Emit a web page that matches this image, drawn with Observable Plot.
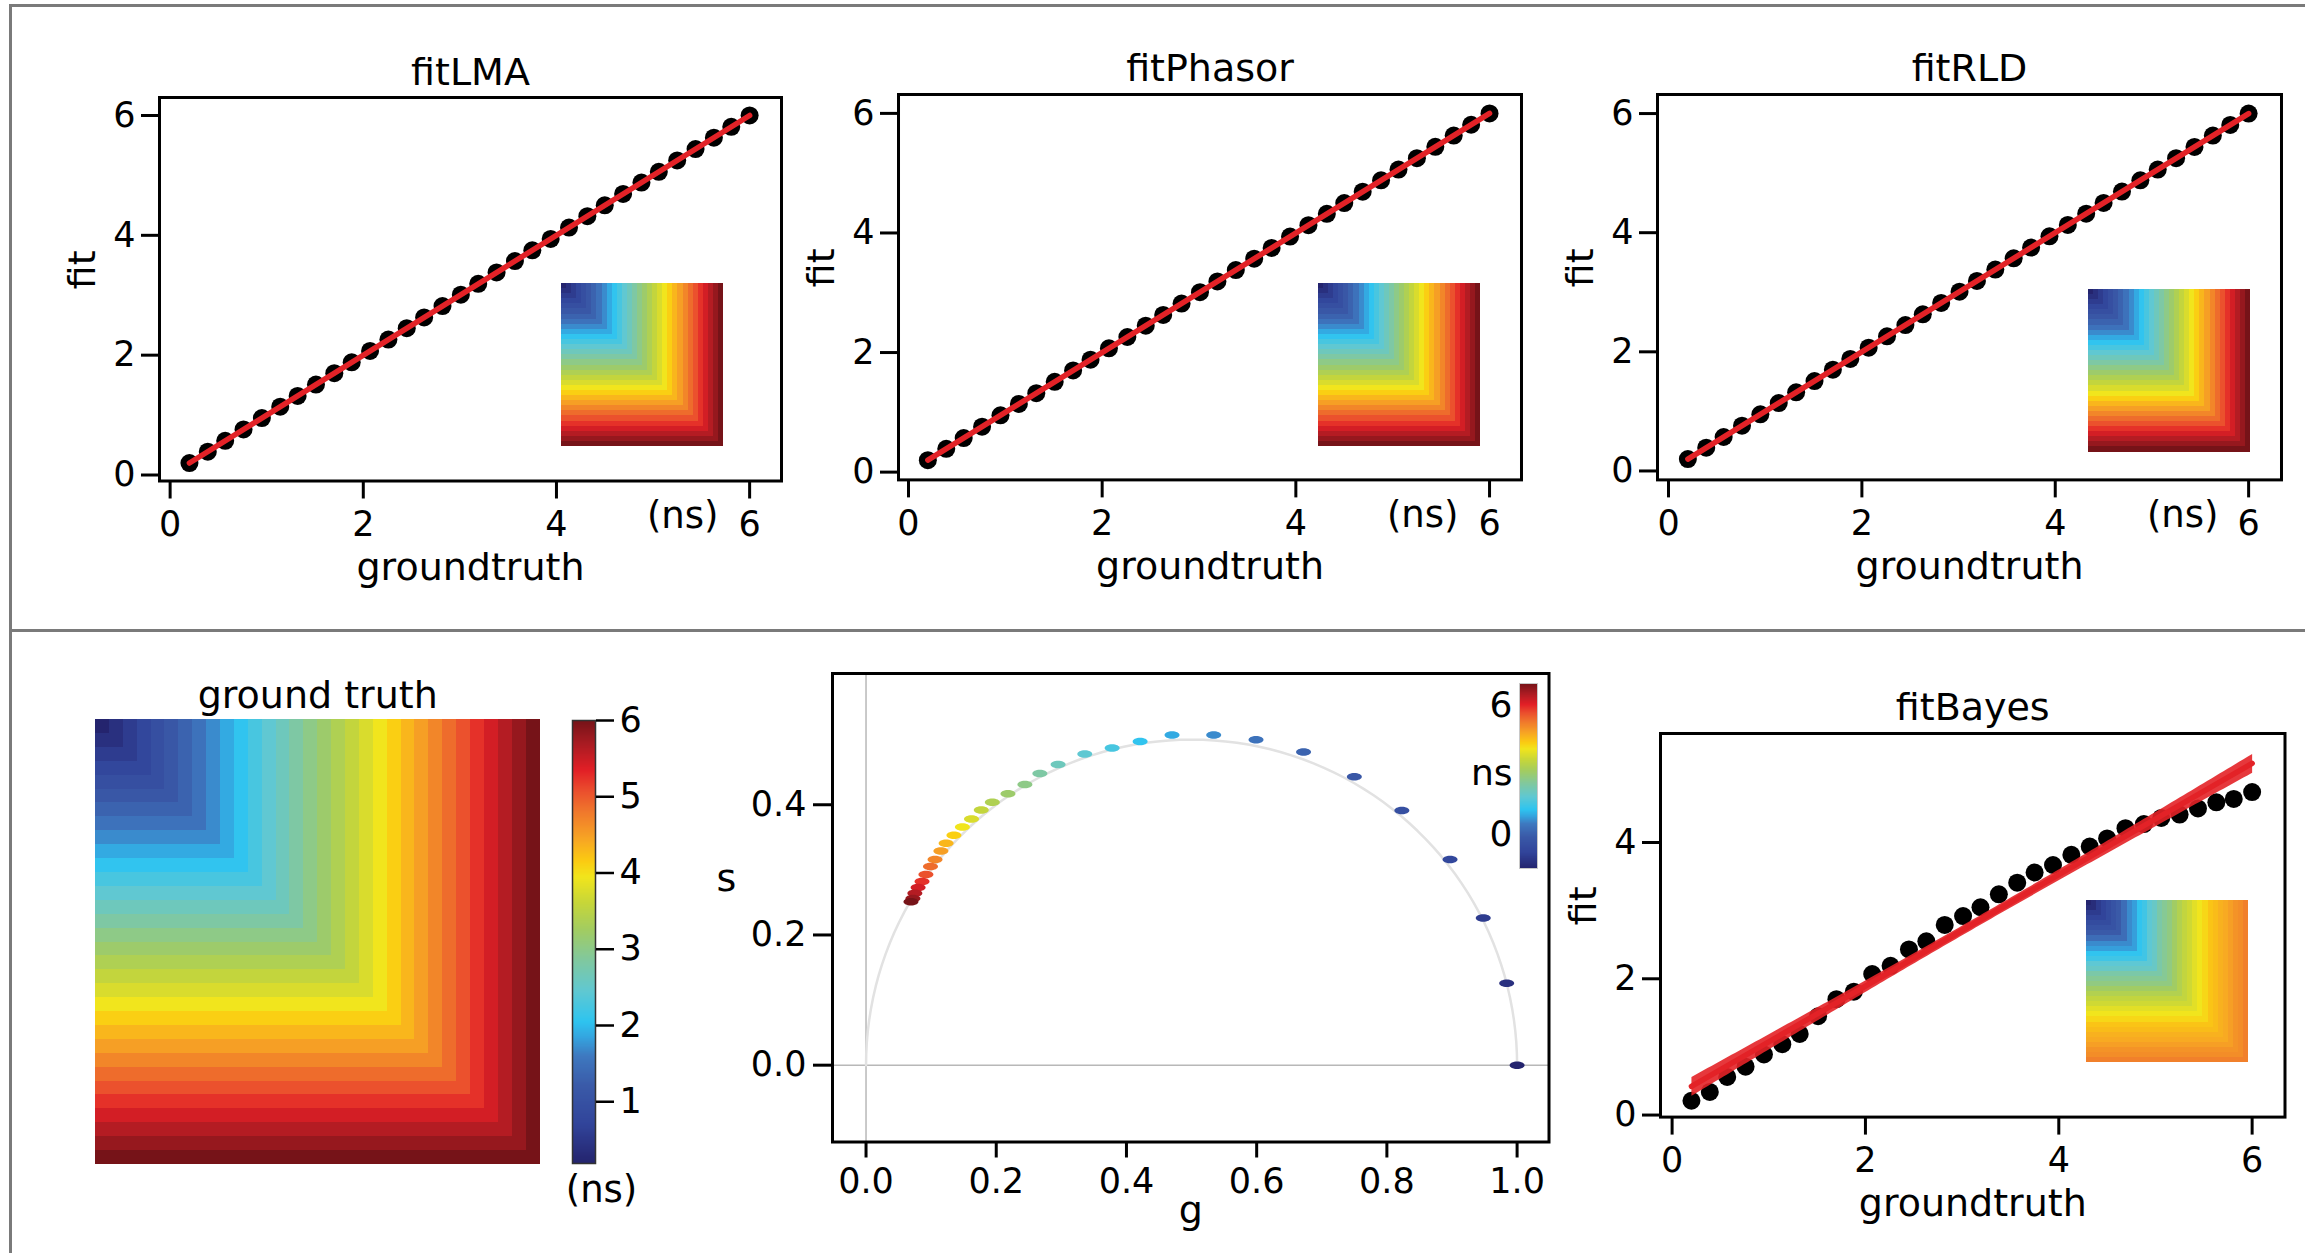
<!DOCTYPE html>
<html><head><meta charset="utf-8">
<script src="https://cdn.jsdelivr.net/npm/d3@7"></script>
<script src="https://cdn.jsdelivr.net/npm/@observablehq/plot@0.6"></script>
<style>
html,body{margin:0;padding:0;background:#fff;}
#fig{position:relative;width:2305px;height:1253px;overflow:hidden;background:#fff;font-family:"DejaVu Sans",sans-serif;}
#fig svg{position:absolute;overflow:visible;}
.box{position:absolute;border:3px solid #7a7a7a;}
</style></head><body>
<div id="fig">
  <div class="box" style="left:9px;top:4px;width:2400px;height:1400px"></div>
  <div style="position:absolute;left:9px;top:629px;width:2400px;border-top:3px solid #7a7a7a"></div>
</div>
<script>
// ---------------- data ----------------
const groundtruth = [0.2, 0.39, 0.57, 0.76, 0.95, 1.14, 1.32, 1.51, 1.7, 1.88, 2.07, 2.26, 2.45, 2.63, 2.82, 3.01,
  3.19, 3.38, 3.57, 3.75, 3.94, 4.13, 4.32, 4.5, 4.69, 4.88, 5.06, 5.25, 5.44, 5.63, 5.81, 6.0];
const fitLMA = [0.2, 0.39, 0.57, 0.76, 0.95, 1.14, 1.32, 1.51, 1.7, 1.88, 2.07, 2.26, 2.45, 2.63, 2.82, 3.01,
  3.19, 3.38, 3.57, 3.75, 3.94, 4.13, 4.32, 4.5, 4.69, 4.88, 5.06, 5.25, 5.44, 5.63, 5.81, 6.0];
const fitPhasor = [0.2, 0.39, 0.57, 0.76, 0.95, 1.14, 1.32, 1.51, 1.7, 1.88, 2.07, 2.26, 2.45, 2.63, 2.82, 3.01,
  3.19, 3.38, 3.57, 3.75, 3.94, 4.13, 4.32, 4.5, 4.69, 4.88, 5.06, 5.25, 5.44, 5.63, 5.81, 6.0];
const fitRLD = [0.2, 0.39, 0.57, 0.76, 0.95, 1.14, 1.32, 1.51, 1.7, 1.88, 2.07, 2.26, 2.45, 2.63, 2.82, 3.01,
  3.19, 3.38, 3.57, 3.75, 3.94, 4.13, 4.32, 4.5, 4.69, 4.88, 5.06, 5.25, 5.44, 5.63, 5.81, 6.0];
const fitBayes = [0.21, 0.34, 0.56, 0.71, 0.89, 1.04, 1.19, 1.45, 1.7, 1.81, 2.07, 2.19, 2.43, 2.55, 2.79, 2.92,
  3.05, 3.24, 3.41, 3.56, 3.67, 3.82, 3.94, 4.06, 4.21, 4.27, 4.36, 4.41, 4.5, 4.59, 4.64, 4.74];
const phasorG = [1.0, 0.984, 0.948, 0.897, 0.823, 0.75, 0.672, 0.599, 0.534, 0.47, 0.421, 0.378, 0.336, 0.295, 0.267, 0.244,
  0.218, 0.194, 0.177, 0.162, 0.148, 0.135, 0.123, 0.115, 0.106, 0.099, 0.092, 0.086, 0.08, 0.075, 0.072, 0.069];
const phasorS = [0.0, 0.126, 0.226, 0.316, 0.391, 0.443, 0.481, 0.5, 0.507, 0.507, 0.497, 0.487, 0.478, 0.462, 0.448, 0.431,
  0.417, 0.404, 0.392, 0.378, 0.366, 0.353, 0.341, 0.329, 0.316, 0.305, 0.293, 0.282, 0.273, 0.264, 0.256, 0.251];
const phasorTau = groundtruth;
const fitTicks = [0, 2, 4, 6];
const bayesYTicks = [0, 2, 4];
const phasorXTicks = [0, 0.2, 0.4, 0.6, 0.8, 1.0];
const phasorYTicks = [0, 0.2, 0.4];
const colorbarTicks = [1, 2, 3, 4, 5, 6];
const phasorBarTicks = [0, 6];

// ---------------- colour map ----------------
const cmapStops = [0.2, 0.7, 1.2, 1.6, 1.85, 2.05, 2.45, 2.85, 3.25, 3.6, 3.95, 4.15, 4.45, 4.8, 5.1, 5.35, 5.7, 6.0];
const cmapColors = ["#24246e", "#31449a", "#3a5aa8", "#3e79c0", "#34a6e0", "#2ec4f0", "#60c8d2", "#80c8a0", "#a2cc62",
  "#c6d63a", "#f2e51c", "#fbcc12", "#f7a524", "#f0782c", "#ea4b2d", "#e21f26", "#a81b22", "#761318"];
const colorScale = {type: "linear", domain: cmapStops, range: cmapColors, interpolate: "rgb", clamp: true};
const barLo = -1.58, barHi = 7.02;
const phasorBarScale = {type: "linear", domain: cmapStops.map(v => barLo + (v - 0.2) / 5.8 * (barHi - barLo)),
  range: cmapColors, interpolate: "rgb", clamp: true};

const RED = "#e32227";
const TICK = 35;
const intFmt = d3.format("d");
const oneFmt = d3.format(".1f");
const base = {fontFamily: "DejaVu Sans", fontSize: "35px", color: "black", background: "transparent", overflow: "visible"};
const fig = document.getElementById("fig");
function place(svg, left, top) {
  svg.style.position = "absolute"; svg.style.left = left + "px"; svg.style.top = top + "px";
  fig.appendChild(svg);
}

function imageTable(values) {
  const n = values.length, out = [];
  for (let j = 0; j < n; ++j) for (let i = 0; i < n; ++i) out.push({i, j, v: values[Math.max(i, j)]});
  return out;
}

function heat(values, L, T, W, H, title) {
  const mT = title ? 60 : 0;
  const svg = Plot.plot({
    width: W, height: H + mT, marginTop: mT, marginLeft: 0, marginRight: 0, marginBottom: 0,
    style: base,
    x: {type: "band", padding: 0, round: false, axis: null},
    y: {type: "band", padding: 0, round: false, axis: null},
    color: colorScale,
    marks: [
      Plot.cell(imageTable(values), {x: "i", y: "j", fill: "v", inset: 0, shapeRendering: "crispEdges"}),
      title ? Plot.text([title], {frameAnchor: "top", dy: -12, lineAnchor: "bottom", fontSize: 38}) : null
    ]
  });
  place(svg, L, T - mT);
}

function fitPanel({title, gt, fit, L, T, R, B, xDomain, yDomain, yTicks, ns}) {
  const mL = 120, mR = 40, mT = 70, mB = 120;
  const data = gt.map((x, i) => ({groundtruth: x, fit: fit[i]}));
  const svg = Plot.plot({
    width: R - L + mL + mR, height: B - T + mT + mB,
    marginLeft: mL, marginRight: mR, marginTop: mT, marginBottom: mB,
    style: base,
    x: {domain: xDomain}, y: {domain: yDomain},
    marks: [
      Plot.axisX({ticks: fitTicks, tickFormat: intFmt, fontSize: TICK, tickSize: 18, tickPadding: 12, strokeWidth: 3, label: null}),
      Plot.axisY({ticks: yTicks, tickFormat: intFmt, fontSize: TICK, tickSize: 18, tickPadding: 6, strokeWidth: 3, label: null}),
      Plot.dot(data, {x: "groundtruth", y: "fit", r: 9, fill: "black"}),
      Plot.linearRegressionY(data, {x: "groundtruth", y: "fit", stroke: RED, strokeWidth: 5.5, fill: RED, fillOpacity: 0.9}),
      Plot.frame({stroke: "black", strokeWidth: 3}),
      Plot.text([title], {frameAnchor: "top", dy: -13, lineAnchor: "bottom", fontSize: 38}),
      Plot.text(["groundtruth"], {frameAnchor: "bottom", dy: 99, lineAnchor: "bottom", fontSize: 38}),
      Plot.text(["fit"], {frameAnchor: "left", dx: -65, rotate: -90, lineAnchor: "bottom", fontSize: 38}),
      ns ? Plot.text(["(ns)"], {frameAnchor: "bottom-right", dx: -63, dy: 47, textAnchor: "end", lineAnchor: "bottom", fontSize: 37}) : null
    ]
  });
  place(svg, L - mL, T - mT);
}

// ---------------- top row ----------------
fitPanel({title: "fitLMA", gt: groundtruth, fit: fitLMA, L: 159, T: 96.5, R: 781, B: 480,
  xDomain: [-0.11, 6.33], yDomain: [-0.1, 6.3], yTicks: fitTicks, ns: true});
heat(fitLMA, 561, 283, 162, 163);
fitPanel({title: "fitPhasor", gt: groundtruth, fit: fitPhasor, L: 898, T: 93.6, R: 1521, B: 479,
  xDomain: [-0.103, 6.33], yDomain: [-0.13, 6.316], yTicks: fitTicks, ns: true});
heat(fitPhasor, 1318, 283, 162, 163);
fitPanel({title: "fitRLD", gt: groundtruth, fit: fitRLD, L: 1657, T: 93.6, R: 2281, B: 479,
  xDomain: [-0.114, 6.34], yDomain: [-0.15, 6.32], yTicks: fitTicks, ns: true});
heat(fitRLD, 2088, 288.5, 162, 162.5);

// ---------------- bottom row ----------------
heat(groundtruth, 94.5, 719, 444.5, 445, "ground truth");

// colour bar of the ground truth image
(function () {
  const L = 572, T = 720, R = 595, B = 1163, mL = 10, mR = 70, mT = 10, mB = 60;
  const svg = Plot.plot({
    width: R - L + mL + mR, height: B - T + mT + mB, marginLeft: mL, marginRight: mR, marginTop: mT, marginBottom: mB,
    style: base,
    x: {domain: [0, 1], axis: null}, y: {domain: [0.19, 6.0]},
    color: colorScale,
    marks: [
      Plot.raster({fill: (x, y) => y, x1: 0, x2: 1, y1: 0.19, y2: 6.0, width: 1, height: 400}),
      Plot.frame({stroke: "#333", strokeWidth: 1.5}),
      Plot.axisY({anchor: "right", ticks: colorbarTicks, tickFormat: intFmt, fontSize: TICK, tickSize: 18, tickPadding: 6, strokeWidth: 2.5, label: null}),
      Plot.text(["(ns)"], {frameAnchor: "bottom", dx: 17.5, dy: 38, lineAnchor: "bottom", fontSize: 37})
    ]
  });
  place(svg, L - mL, T - mT);
})();

// phasor plot
(function () {
  const L = 832, T = 672.5, R = 1548.5, B = 1141, mL = 140, mR = 20, mT = 20, mB = 100;
  const data = phasorG.map((g, i) => ({g, s: phasorS[i], tau: phasorTau[i]}));
  const semicircle = d3.range(0, 181, 2).map(a => ({g: 0.5 + 0.5 * Math.cos(a * Math.PI / 180), s: 0.5 * Math.sin(a * Math.PI / 180)}));
  const ellipse = {draw(context, size) {
    const r = Math.sqrt(size / Math.PI), rx = r, ry = r * 0.5, k = 0.5523;
    context.moveTo(rx, 0);
    context.bezierCurveTo(rx, ry * k, rx * k, ry, 0, ry);
    context.bezierCurveTo(-rx * k, ry, -rx, ry * k, -rx, 0);
    context.bezierCurveTo(-rx, -ry * k, -rx * k, -ry, 0, -ry);
    context.bezierCurveTo(rx * k, -ry, rx, -ry * k, rx, 0);
    context.closePath();
  }};
  const svg = Plot.plot({
    width: R - L + mL + mR, height: B - T + mT + mB, marginLeft: mL, marginRight: mR, marginTop: mT, marginBottom: mB,
    style: base,
    x: {domain: [-0.0515, 1.049]}, y: {domain: [-0.118, 0.6016]},
    color: colorScale,
    marks: [
      Plot.ruleX([0], {stroke: "#b8b8b8", strokeWidth: 1.5}),
      Plot.ruleY([0], {stroke: "#b8b8b8", strokeWidth: 1.5}),
      Plot.line(semicircle, {x: "g", y: "s", stroke: "#e2e2e2", strokeWidth: 2.5}),
      Plot.dot(data, {x: "g", y: "s", fill: "tau", r: 7.5, symbol: ellipse}),
      Plot.axisX({ticks: phasorXTicks, tickFormat: oneFmt, fontSize: TICK, tickSize: 16, tickPadding: 10, strokeWidth: 3, label: null}),
      Plot.axisY({ticks: phasorYTicks, tickFormat: oneFmt, fontSize: TICK, tickSize: 19, tickPadding: 7, strokeWidth: 3, label: null}),
      Plot.frame({stroke: "black", strokeWidth: 3}),
      Plot.text(["g"], {frameAnchor: "bottom", dy: 81, lineAnchor: "bottom", fontSize: 38}),
      Plot.text(["s"], {frameAnchor: "left", dx: -116, dy: -29, lineAnchor: "middle", fontSize: 38})
    ]
  });
  place(svg, L - mL, T - mT);
})();

// colour bar inside the phasor plot
(function () {
  const L = 1519, T = 683, R = 1537, B = 868, mL = 60, mR = 5, mT = 5, mB = 5;
  const svg = Plot.plot({
    width: R - L + mL + mR, height: B - T + mT + mB, marginLeft: mL, marginRight: mR, marginTop: mT, marginBottom: mB,
    style: base,
    x: {domain: [0, 1], axis: null}, y: {domain: [barLo, barHi]},
    color: phasorBarScale,
    marks: [
      Plot.raster({fill: (x, y) => y, x1: 0, x2: 1, y1: barLo, y2: barHi, width: 1, height: 300}),
      Plot.frame({stroke: "#c8c8c8", strokeWidth: 1}),
      Plot.axisY({anchor: "left", ticks: phasorBarTicks, tickFormat: intFmt, fontSize: 36, tickSize: 0, tickPadding: 7, label: null}),
      Plot.text(["ns"], {frameAnchor: "left", dx: -7, dy: -3, textAnchor: "end", fontSize: 36})
    ]
  });
  place(svg, L - mL, T - mT);
})();

fitPanel({title: "fitBayes", gt: groundtruth, fit: fitBayes, L: 1660, T: 733, R: 2284.5, B: 1116.6,
  xDomain: [-0.12, 6.34], yDomain: [-0.03, 5.6], yTicks: bayesYTicks, ns: false});
heat(fitBayes, 2086, 900, 162, 162);
</script>
</body></html>
